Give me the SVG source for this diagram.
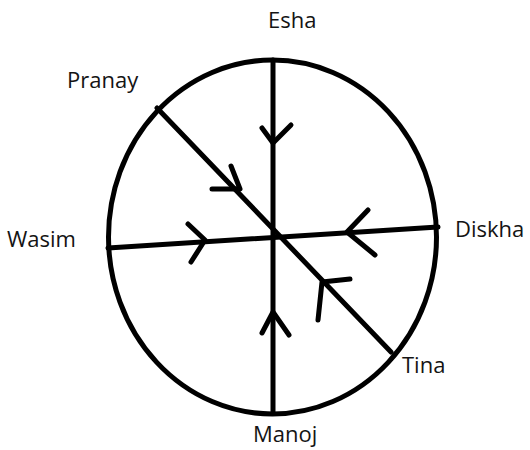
<svg xmlns="http://www.w3.org/2000/svg" width="530" height="450" viewBox="0 0 530 450">
<style>
.ln{fill:none;stroke:#000;stroke-width:5;stroke-linecap:round;stroke-linejoin:round}
.lb{font-family:"Open Sans","Noto Sans",sans-serif;font-size:22px;fill:#141414}
</style>
<rect width="530" height="450" fill="#fff"/>
<g id="circle">
<ellipse class="ln" cx="272.5" cy="237" rx="164" ry="177"/>
</g>
<g id="connectors">
<line class="ln" x1="273" y1="60" x2="273" y2="412"/>
<line class="ln" x1="108" y1="248" x2="438" y2="227"/>
<line class="ln" x1="157" y1="108" x2="391" y2="352"/>
<polyline class="ln" points="262,128 273,143 291,125"/>
<polyline class="ln" points="231,166 240,189 212,189"/>
<polyline class="ln" points="188,224 205,240 191,262"/>
<polyline class="ln" points="368,210 347,232 375,255"/>
<polyline class="ln" points="350,279 322,282 318,320"/>
<polyline class="ln" points="262,333 273,312 289,335"/>
</g>
<g id="esha"><text class="lb" x="268" y="28">Esha</text></g>
<g id="pranay"><text class="lb" x="67" y="88">Pranay</text></g>
<g id="wasim"><text class="lb" x="7" y="247">Wasim</text></g>
<g id="diskha"><text class="lb" x="455" y="237">Diskha</text></g>
<g id="tina"><text class="lb" x="402" y="373">Tina</text></g>
<g id="manoj"><text class="lb" x="253" y="442">Manoj</text></g>
</svg>
